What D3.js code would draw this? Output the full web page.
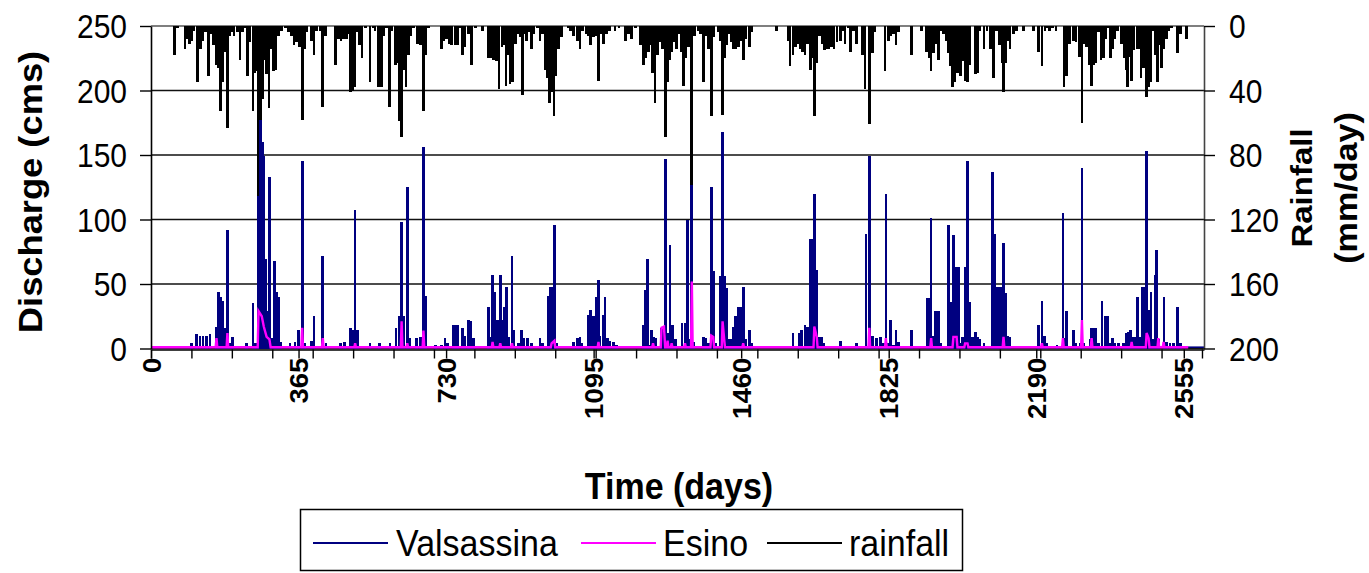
<!DOCTYPE html>
<html>
<head>
<meta charset="utf-8">
<script src="https://cdn.jsdelivr.net/npm/d3@7"></script>
<style>
  html, body { margin: 0; padding: 0; background: #fff; }
  svg { display: block; }
  text { font-family: "Liberation Sans", Arial, sans-serif; fill: #000; }
</style>
</head>
<body>
<svg id="chart" width="1369" height="573"></svg>
<script>
// ---------------- DATA ----------------
const dischargeTicks = [0, 50, 100, 150, 200, 250];
const rainfallTicks = [0, 40, 80, 120, 160, 200];
const timeTickLabels = [0, 365, 730, 1095, 1460, 1825, 2190, 2555];

// Valsassina discharge (cms): [day, value]
const valsassina = [
[101,4],[113,11],[121,10],[129,10],[138,10],[146,11],[161,17],[167,44],[173,40],[177,37],[181,16],[189,92],[195,4],[202,9],
[237,4],[252,35],[258,4],[266,118],[271,177],[275,160],[278,149],[283,69],[288,29],[293,133],[299,8],[305,68],[311,44],[316,40],[321,5],
[344,4],[356,5],[365,14],[374,145],[381,4],[397,6],[403,25],[425,72],[433,4],
[468,4],[478,5],[494,16],[501,14],[505,107],[511,14],[542,4],[565,4],[591,4],[606,16],[614,25],[620,98],[626,25],[634,125],[641,8],
[657,8],[666,9],[674,156],[680,41],[703,3],[719,3],[727,8],[733,4],[747,18],[752,18],[758,18],[771,16],[777,10],[785,22],[792,21],[798,8],
[835,32],[841,9],[845,57],[851,44],[857,22],[864,57],[869,22],[874,32],[880,48],[886,9],
[893,72],[898,14],[909,4],[917,14],[923,8],[931,8],[942,4],[962,8],[969,4],[983,41],[989,48],[994,48],[998,96],[1004,4],
[1046,5],[1055,8],[1061,9],[1065,4],[1082,26],[1088,30],[1094,25],[1101,40],[1107,53],[1111,10],[1118,26],[1123,40],[1129,8],[1135,6],[1144,5],[1152,3],
[1218,18],[1224,45],[1228,69],[1232,3],[1239,14],[1244,9],[1249,8],[1263,16],[1269,13],[1273,147],[1278,12],[1284,80],[1290,18],[1298,7],
[1314,20],[1321,20],[1327,100],[1331,7],
[1338,127],[1342,5],[1366,9],[1373,8],[1379,4],[1386,125],[1391,60],[1398,4],[1409,56],[1414,168],[1418,56],[1424,47],[1430,7],[1435,7],
[1441,17],[1446,25],[1453,32],[1459,32],[1465,48],[1471,7],[1480,14],[1486,4],
[1588,12],[1604,12],[1610,14],[1618,18],[1624,17],[1631,85],[1636,85],[1641,120],[1647,61],[1653,9],[1658,9],[1664,4],[1706,6],[1746,4],
[1769,89],[1777,149],[1785,10],[1795,8],[1805,9],[1812,4],[1818,120],[1824,4],[1830,22],[1837,3],[1843,14],[1849,5],[1882,14],
[1921,39],[1926,39],[1930,101],[1936,10],[1941,29],[1948,29],[1954,4],[1973,96],[1978,36],[1985,88],[1991,63],[1997,63],[2002,4],[2008,9],
[2014,63],[2020,145],[2026,36],[2032,9],[2039,13],[2045,9],[2051,7],[2061,4],[2082,137],[2087,89],[2092,48],[2099,48],[2105,48],[2109,82],
[2115,43],[2119,10],[2125,9],[2195,18],[2204,37],[2210,10],[2216,4],
[2241,3],[2256,105],[2261,8],[2265,29],[2282,14],[2288,4],[2298,4],[2303,140],[2308,4],[2323,7],[2327,16],[2333,16],[2338,16],[2344,4],
[2353,37],[2360,25],[2366,25],[2373,4],[2379,8],[2385,4],[2393,4],[2406,4],[2412,12],[2418,13],[2424,14],[2430,9],[2437,9],[2441,40],
[2447,9],[2452,48],[2457,48],[2463,153],[2468,30],[2474,44],[2480,7],[2484,57],[2488,76],[2494,7],[2506,40],[2513,5],[2521,4],[2529,4],
[2540,32],[2546,4]
];
// Valsassina low flow at the end of the record
const valsassinaTail = [[2546,1],[2605,1]];

// Esino discharge (cms): [day, value]
const esino = [
[0,1],[160,1],[162,8],[164,1],[187,1],[189,12],[191,1],[264,1],[266,29],[270,27],[274,25],[279,17],[286,9],[293,7],[296,1],
[372,1],[374,16],[376,1],[423,1],[425,8],[427,1],[503,1],[505,4],[507,1],[618,1],[620,21],[622,1],[632,1],[634,4],[636,1],
[672,1],[674,14],[676,1],[843,1],[845,5],[847,1],[862,1],[864,4],[866,1],[891,1],[893,4],[895,1],[989,1],[991,4],[998,6],[1000,1],
[1105,1],[1107,5],[1109,1],[1240,1],[1242,4],[1244,1],[1261,1],[1263,16],[1269,17],[1272,1],[1276,1],[1278,6],[1280,1],
[1286,1],[1288,4],[1290,1],[1319,1],[1321,4],[1323,1],[1336,1],[1338,52],[1340,1],[1384,1],[1386,10],[1391,9],[1393,1],
[1412,1],[1414,21],[1418,7],[1420,1],[1463,1],[1465,4],[1467,1],[1639,1],[1641,17],[1647,9],[1649,1],[1775,1],[1777,16],[1779,1],
[1816,1],[1818,8],[1820,1],[1928,1],[1930,8],[1932,1],[1983,1],[1985,9],[1993,9],[1995,1],[2012,1],[2014,4],[2020,4],[2022,1],
[2107,1],[2109,9],[2111,1],[2202,1],[2204,4],[2206,1],[2254,1],[2256,8],[2258,1],[2301,1],[2303,22],[2305,1],[2325,1],[2327,8],[2329,1],
[2424,1],[2426,5],[2428,1],[2461,1],[2463,12],[2468,8],[2470,1],[2490,1],[2492,8],[2494,1],[2503,1],[2505,5],[2507,1],[2566,1]
];

// Rainfall (mm/day): [day, value]
const rainfall = [
[59,18],[65,1],[84,14],[90,8],[95,11],[101,9],[105,3],[115,35],[123,14],[128,9],[134,4],[142,31],[148,5],[154,12],[161,24],[167,26],
[172,53],[177,35],[183,16],[189,63],[194,6],[200,4],[205,6],[214,4],[220,21],[227,4],[233,1],[238,31],[245,10],[252,53],[257,29],
[261,28],[266,106],[271,82],[276,45],[282,21],[286,30],[292,51],[297,14],[303,28],[309,27],[315,6],[323,3],[332,1],[340,4],[348,6],
[354,12],[360,10],[367,13],[374,58],[379,14],[385,4],[397,9],[403,18],[410,3],[418,3],[425,50],[431,6],
[456,24],[464,8],[470,9],[476,8],[483,8],[488,5],[494,41],[498,40],[503,38],[509,4],[516,12],[522,20],[530,1],[542,35],[549,1],[554,3],
[563,38],[571,38],[575,6],[582,1],[590,50],[595,3],[604,24],[609,23],[614,59],[620,69],[626,27],[631,38],[637,18],[643,6],[649,1],
[659,11],[666,12],[674,53],[680,18],[686,1],[719,14],[725,9],[731,8],[738,11],[744,12],[752,12],[758,12],[764,1],[771,18],[777,13],
[785,5],[793,24],[802,1],[820,3],[835,20],[841,20],[847,21],[854,22],[861,39],[868,13],[872,12],[878,37],[884,18],
[888,36],[895,35],[901,11],[906,5],[913,7],[919,43],[924,5],[929,9],[936,4],[942,14],[947,5],[956,1],[962,9],[969,5],[975,27],[980,32],
[985,48],[991,41],[997,56],[1002,31],[1008,14],[1016,7],[1032,1],[1038,3],[1046,6],[1055,9],[1061,14],[1068,3],[1076,5],[1082,6],
[1088,12],[1094,7],[1101,6],[1107,34],[1112,5],[1119,11],[1126,5],[1135,3],[1148,3],[1158,1],[1173,9],[1181,5],[1189,8],[1198,1],
[1211,12],[1218,24],[1224,20],[1230,16],[1236,12],[1241,29],[1247,48],[1253,18],[1259,10],[1266,14],[1272,69],[1277,35],[1282,21],
[1288,16],[1294,10],[1300,14],[1306,5],[1313,16],[1317,37],[1323,20],[1329,13],
[1338,99],[1344,6],[1354,3],[1360,5],[1366,35],[1373,6],[1379,14],[1386,56],[1391,7],[1404,4],[1409,9],[1414,55],[1418,20],[1424,12],
[1430,5],[1435,10],[1441,14],[1446,14],[1453,13],[1459,9],[1465,21],[1471,8],[1480,13],[1486,4],[1548,3],[1577,9],[1581,25],[1588,18],
[1594,13],[1600,11],[1606,14],[1612,16],[1618,18],[1624,11],[1631,27],[1636,20],[1641,56],[1647,23],[1653,6],[1660,11],[1666,15],
[1672,14],[1677,14],[1684,13],[1690,14],[1697,10],[1705,9],[1711,3],[1717,11],[1725,1],[1731,16],[1738,3],[1746,11],[1761,18],
[1766,39],[1777,61],[1785,17],[1791,4],[1816,28],[1824,9],[1830,6],[1836,5],[1843,12],[1849,4],[1882,18],[1906,3],[1919,16],[1925,20],
[1930,28],[1935,17],[1941,11],[1948,21],[1954,3],[1960,5],[1967,9],[1973,17],[1977,25],[1983,38],[1989,35],[1995,29],[2002,31],
[2008,22],[2014,34],[2020,35],[2026,24],[2039,30],[2045,29],[2051,3],[2061,14],[2068,3],[2077,14],[2084,32],[2092,3],[2099,12],
[2105,23],[2109,41],[2115,23],[2119,9],[2125,14],[2133,5],[2142,3],[2158,3],[2183,3],[2195,16],[2204,25],[2212,3],[2218,1],
[2222,3],[2231,1],[2239,3],[2259,38],[2264,31],[2272,11],[2282,9],[2288,10],[2297,19],[2303,60],[2308,11],[2315,13],[2321,24],
[2327,37],[2333,24],[2338,23],[2344,4],[2350,21],[2356,20],[2362,8],[2368,1],[2373,20],[2379,14],[2385,8],[2391,3],[2401,11],
[2407,20],[2412,27],[2415,38],[2420,19],[2426,34],[2432,15],[2439,14],[2445,14],[2449,32],[2455,26],[2462,44],[2467,38],[2473,35],
[2480,3],[2484,18],[2490,35],[2494,12],[2500,26],[2506,14],[2513,8],[2517,3],[2525,1],[2539,17],[2546,5],[2561,8]
];

const seriesNames = ["Valsassina", "Esino", "rainfall"];
const seriesColors = ["#000080", "#FF00FF", "#000000"];

// ---------------- CHART ----------------
(function drawChart() {
const svg = d3.select("#chart");
const pL = 151, pR = 1204, pT = 26, pB = 348.5;
const SY = 1.1; // vertical stretch of the original lettering

const x = d3.scaleLinear().domain([0, 2605]).range([pL, pR]);
const yQ = d3.scaleLinear().domain([0, 250]).range([pB, pT]);
const yR = d3.scaleLinear().domain([0, 200]).range([pT, pB]);

// gridlines
svg.append("g").selectAll("line").data(dischargeTicks).join("line")
  .attr("x1", pL).attr("x2", pR)
  .attr("y1", d => yQ(d)).attr("y2", d => yQ(d))
  .attr("stroke", d => d === 250 ? "#555" : "#111").attr("stroke-width", 1.4);

// rainfall needles (hanging from top)
svg.append("g").attr("shape-rendering", "crispEdges")
  .selectAll("line").data(rainfall).join("line")
  .attr("x1", d => x(d[0])).attr("x2", d => x(d[0]))
  .attr("y1", yR(0)).attr("y2", d => yR(d[1]))
  .attr("stroke", seriesColors[2]).attr("stroke-width", 2.7);

// Valsassina needles
svg.append("g").attr("shape-rendering", "crispEdges")
  .selectAll("line").data(valsassina).join("line")
  .attr("x1", d => x(d[0])).attr("x2", d => x(d[0]))
  .attr("y1", yQ(0)).attr("y2", d => yQ(d[1]))
  .attr("stroke", seriesColors[0]).attr("stroke-width", 2.7);

const lineQ = d3.line().x(d => x(d[0])).y(d => yQ(d[1]));
svg.append("path").datum(valsassinaTail).attr("d", lineQ)
  .attr("fill", "none").attr("stroke", seriesColors[0]).attr("stroke-width", 1.6);

// Esino line
svg.append("path").datum(esino).attr("d", lineQ)
  .attr("fill", "none").attr("stroke", seriesColors[1]).attr("stroke-width", 2.4)
  .attr("stroke-linejoin", "miter");

// left axis
const axL = svg.append("g").attr("transform", `translate(${pL},0)`)
  .call(d3.axisLeft(yQ).tickValues(dischargeTicks).tickSize(11).tickPadding(13).tickSizeOuter(0));
axL.select(".domain").attr("stroke", "#000").attr("stroke-width", 1.6);
axL.selectAll(".tick line").attr("stroke", "#000").attr("stroke-width", 1.4);
axL.selectAll(".tick text").attr("font-size", 30).attr("font-family", "Liberation Sans, Arial, sans-serif")
  .attr("dy", "0.36em").attr("transform", `scale(1,${SY})`);

// right axis
const axR = svg.append("g").attr("transform", `translate(${pR},0)`)
  .call(d3.axisRight(yR).tickValues(rainfallTicks).tickSize(11).tickPadding(14).tickSizeOuter(0));
axR.select(".domain").attr("stroke", "#444").attr("stroke-width", 1.6);
axR.selectAll(".tick line").attr("stroke", "#000").attr("stroke-width", 1.4);
axR.selectAll(".tick text").attr("font-size", 30).attr("font-family", "Liberation Sans, Arial, sans-serif")
  .attr("dy", "0.36em").attr("transform", `scale(1,${SY})`);

// bottom axis: minor ticks every 100 days, labelled ticks every 365 days
const axB = svg.append("g").attr("transform", `translate(0,${pB + 1})`)
  .call(d3.axisBottom(x).tickValues(d3.range(0, 2601, 100)).tickSize(9).tickFormat("").tickSizeOuter(0));
axB.select(".domain").attr("stroke", "#000").attr("stroke-width", 1.6);
axB.selectAll(".tick line").attr("stroke", "#000").attr("stroke-width", 1.4);
const axB2 = svg.append("g").attr("transform", `translate(0,${pB + 1})`)
  .call(d3.axisBottom(x).tickValues(timeTickLabels).tickSize(9).tickFormat(d3.format("d")).tickSizeOuter(0));
axB2.select(".domain").remove();
axB2.selectAll(".tick line").attr("stroke", "#000").attr("stroke-width", 1.4);
axB2.selectAll(".tick text")
  .attr("font-size", 25).attr("font-weight", "bold").attr("font-family", "Liberation Sans, Arial, sans-serif")
  .attr("text-anchor", "end").attr("x", -7.5).attr("y", 0).attr("dy", "0.36em")
  .attr("transform", `scale(1,${SY}) rotate(-90)`);

// axis titles
function title(txt, cx, cy, size, rot, weight) {
  svg.append("text").text(txt)
    .attr("transform", `translate(${cx},${cy}) scale(1,${SY})` + (rot ? ` rotate(${rot})` : ""))
    .attr("text-anchor", "middle").attr("dominant-baseline", "central")
    .attr("font-size", size).attr("font-weight", weight || "bold");
}
title("Discharge (cms)", 31, 192, 33, -90);
title("Rainfall", 1302, 188, 30, -90);
title("(mm/day)", 1347, 188, 31, -90);
title("Time (days)", 679, 486, 34, 0);

// legend
const lg = svg.append("g");
lg.append("rect").attr("x", 300.5).attr("y", 509.5).attr("width", 662).attr("height", 61)
  .attr("fill", "#fff").attr("stroke", "#000").attr("stroke-width", 1.5);
const legendItems = [
  { name: seriesNames[0], color: seriesColors[0], x1: 313, x2: 388, tx: 396 },
  { name: seriesNames[1], color: seriesColors[1], x1: 581, x2: 656, tx: 663 },
  { name: seriesNames[2], color: seriesColors[2], x1: 767, x2: 842, tx: 849 }
];
legendItems.forEach(it => {
  lg.append("line").attr("x1", it.x1).attr("x2", it.x2).attr("y1", 543).attr("y2", 543)
    .attr("stroke", it.color).attr("stroke-width", 2.2);
  lg.append("text").text(it.name)
    .attr("transform", `translate(${it.tx},543) scale(1,${SY})`)
    .attr("dominant-baseline", "central").attr("font-size", 34);
});
})();
</script>
</body>
</html>
